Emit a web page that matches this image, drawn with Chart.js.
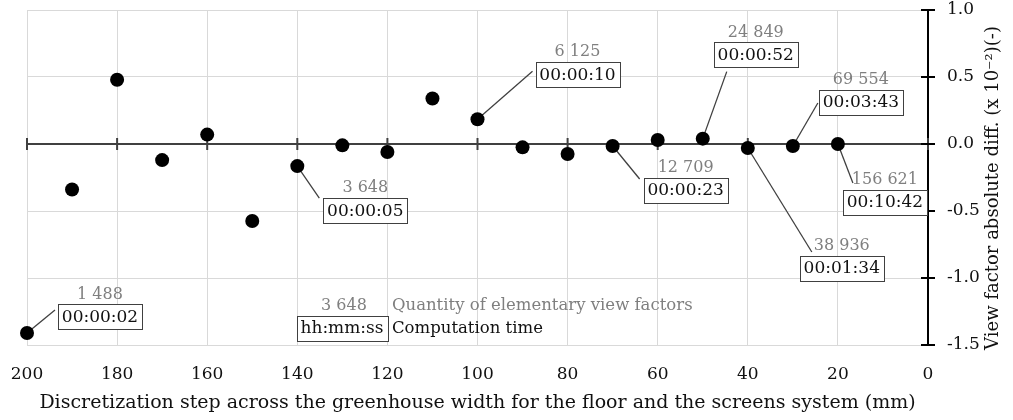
<!DOCTYPE html>
<html><head><meta charset="utf-8">
<script src="https://cdn.jsdelivr.net/npm/chart.js@4"></script>
<style>html,body{margin:0;padding:0;background:#fff}#wrap{width:1013px;height:420px}</style>
</head><body><div id="wrap"><canvas id="c" width="1013" height="420"></canvas></div>
<script>
// ---- data ----
const steps = [200,190,180,170,160,150,140,130,120,110,100,90,80,70,60,50,40,30,20];
const diffs = [-1.41,-0.34,0.48,-0.12,0.07,-0.575,-0.165,-0.01,-0.06,0.34,0.185,-0.025,-0.075,-0.015,0.03,0.04,-0.03,-0.015,0.0];
const calloutSteps = [200,140,100,70,50,40,30,20];
const viewFactorCounts = ['1 488','3 648','6 125','12 709','24 849','38 936','69 554','156 621'];
const computeTimes = ['00:00:02','00:00:05','00:00:10','00:00:23','00:00:52','00:01:34','00:03:43','00:10:42'];
const legendCount = '3 648';
const legendTime = 'hh:mm:ss';
const legendCountText = 'Quantity of elementary view factors';
const legendTimeText = 'Computation time';
const xTitle = 'Discretization step across the greenhouse width for the floor and the screens system (mm)';
const yTitle = 'View factor absolute diff. (x 10\u207B\u00B2)(-)';

// ---- layout of callouts (pixel offsets from the point: box centre, leader end) ----
const calloutLayout = [
  {bx:73, by:-16, lx:28, ly:-23},
  {bx:68, by:44, lx:22, ly:32},
  {bx:100, by:-45, lx:55, ly:-48},
  {bx:73, by:44, lx:27, ly:33},
  {bx:53, by:-84, lx:24, ly:-67},
  {bx:94, by:120, lx:64, ly:104},
  {bx:68, by:-44, lx:25, ly:-43},
  {bx:47, by:58, lx:15, ly:39}
];

const FONT = "'DejaVu Serif', serif";
const GRAY = '#7f7f7f';
const INK = '#111';

function boxText(ctx, txt, cx, cy) {
  ctx.font = '17px ' + FONT;
  const w = Math.round(ctx.measureText(txt).width + 8);
  const h = 25;
  const x0 = Math.round(cx - w/2), y0 = Math.round(cy - h/2);
  ctx.fillStyle = '#fff';
  ctx.fillRect(x0, y0, w, h);
  ctx.strokeStyle = '#404040';
  ctx.lineWidth = 1;
  ctx.strokeRect(x0 + 0.5, y0 + 0.5, w, h);
  ctx.fillStyle = INK;
  ctx.textAlign = 'center';
  ctx.textBaseline = 'middle';
  ctx.fillText(txt, cx, cy + 1);
}

const overlay = {
  id: 'overlay',
  beforeDatasetsDraw(chart) {
    const ctx = chart.ctx, xs = chart.scales.x, ys = chart.scales.y;
    const y0 = ys.getPixelForValue(0);
    ctx.save();
    ctx.strokeStyle = '#404040';
    ctx.lineWidth = 2;
    ctx.beginPath();
    ctx.moveTo(xs.left, y0); ctx.lineTo(xs.right, y0);
    ctx.stroke();
    xs.ticks.forEach(t => {
      const x = xs.getPixelForValue(t.value);
      ctx.beginPath(); ctx.moveTo(x, y0 - 6); ctx.lineTo(x, y0 + 6); ctx.stroke();
    });
    ctx.lineWidth = 1.3;
    calloutSteps.forEach((s, i) => {
      const idx = steps.indexOf(s);
      const px = xs.getPixelForValue(s), py = ys.getPixelForValue(diffs[idx]);
      const L = calloutLayout[i];
      ctx.beginPath(); ctx.moveTo(px, py); ctx.lineTo(px + L.lx, py + L.ly); ctx.stroke();
    });
    ctx.restore();
  },
  afterDatasetsDraw(chart) {
    const ctx = chart.ctx, xs = chart.scales.x, ys = chart.scales.y;
    const ca = chart.chartArea;
    ctx.save();
    ctx.strokeStyle = '#000';
    ctx.lineWidth = 2;
    ys.ticks.forEach(t => {
      const y = ys.getPixelForValue(t.value);
      ctx.beginPath(); ctx.moveTo(ca.right - 7, y); ctx.lineTo(ca.right + 7, y); ctx.stroke();
    });
    calloutSteps.forEach((s, i) => {
      const idx = steps.indexOf(s);
      const px = xs.getPixelForValue(s), py = ys.getPixelForValue(diffs[idx]);
      const L = calloutLayout[i];
      const cx = px + L.bx, cy = py + L.by;
      boxText(ctx, computeTimes[i], cx, cy);
      ctx.font = '16px ' + FONT;
      ctx.fillStyle = GRAY;
      ctx.textAlign = 'center';
      ctx.textBaseline = 'middle';
      ctx.fillText(viewFactorCounts[i], cx, cy - 22);
    });
    // legend
    const lx = ca.left + 315, ly = ca.bottom - 17;
    boxText(ctx, legendTime, lx, ly);
    ctx.font = '16px ' + FONT;
    ctx.fillStyle = GRAY;
    ctx.textAlign = 'center';
    ctx.textBaseline = 'middle';
    ctx.fillText(legendCount, lx + 2, ly - 22);
    ctx.font = '16.5px ' + FONT;
    ctx.textAlign = 'left';
    ctx.fillText(legendCountText, ca.left + 365, ly - 22);
    ctx.fillStyle = INK;
    ctx.fillText(legendTimeText, ca.left + 365, ly + 1);
    // y title
    ctx.translate(993, 188);
    ctx.rotate(-Math.PI / 2);
    ctx.font = '18px ' + FONT;
    ctx.fillStyle = INK;
    ctx.textAlign = 'center';
    ctx.textBaseline = 'middle';
    ctx.fillText(yTitle, 0, 0);
    ctx.restore();
  }
};

new Chart(document.getElementById('c'), {
  type: 'scatter',
  data: {
    datasets: [{
      data: steps.map((s, i) => ({x: s, y: diffs[i]})),
      pointRadius: 7,
      pointHoverRadius: 7,
      backgroundColor: '#000',
      borderColor: '#000',
      borderWidth: 0,
      clip: false
    }]
  },
  options: {
    responsive: false,
    animation: false,
    devicePixelRatio: 1,
    layout: {padding: {left: 27, top: 10, right: 0, bottom: 0}},
    plugins: {legend: {display: false}, tooltip: {enabled: false}},
    scales: {
      x: {
        type: 'linear', reverse: true, min: 0, max: 200,
        ticks: {stepSize: 20, color: INK, font: {family: FONT, size: 17}, padding: 19, maxRotation: 0},
        grid: {color: '#d9d9d9', lineWidth: 1, drawTicks: false},
        border: {display: false},
        title: {display: true, text: xTitle, color: INK, font: {family: FONT, size: 19}, padding: {top: 0, bottom: 6}},
        afterFit: s => { s.height = 75; s.paddingLeft = 0; s.paddingRight = 0; }
      },
      y: {
        position: 'right', min: -1.5, max: 1.0,
        ticks: {stepSize: 0.5, color: INK, font: {family: FONT, size: 17}, padding: 19, callback: v => Number(v).toFixed(1)},
        grid: {color: '#d9d9d9', lineWidth: 1, drawTicks: false},
        border: {display: true, color: '#000', width: 2},
        afterFit: s => { s.width = 85; s.paddingTop = 0; s.paddingBottom = 0; }
      }
    }
  },
  plugins: [overlay]
});
</script>
</body></html>
